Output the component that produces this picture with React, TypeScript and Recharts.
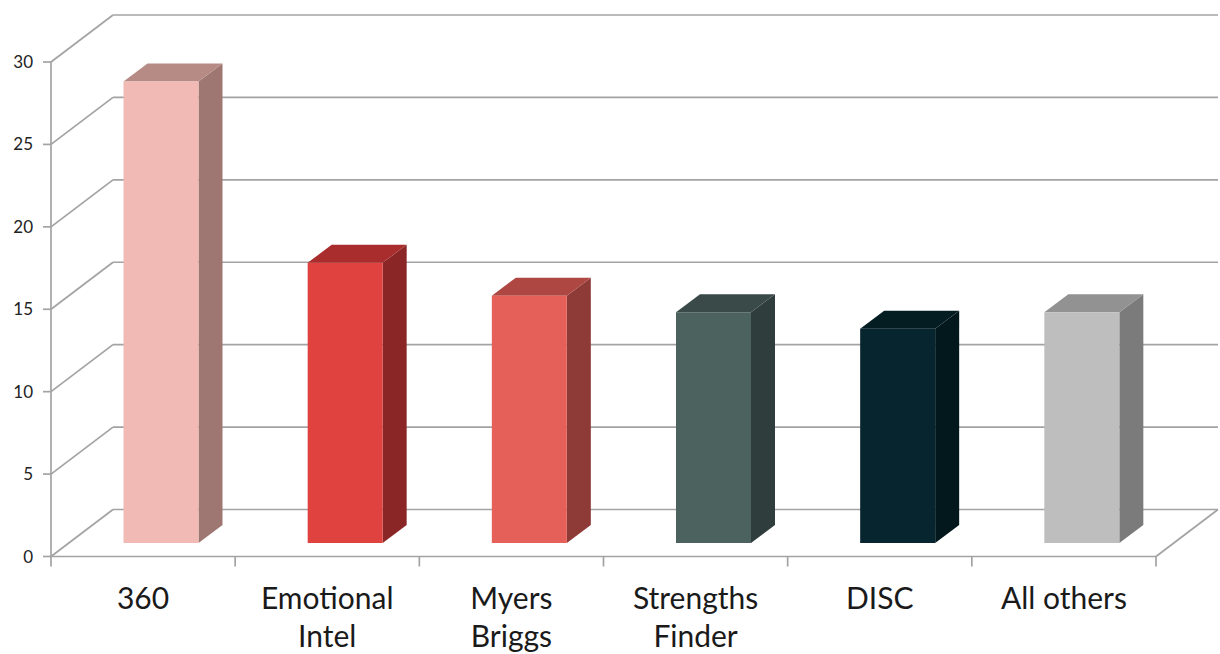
import React from 'react';
import { BarChart, Bar, XAxis, YAxis, CartesianGrid } from 'recharts';

// Chart data
const categories = ['360', 'Emotional\nIntel', 'Myers\nBriggs', 'Strengths\nFinder', 'DISC', 'All others'];
const counts = [28, 17, 15, 14, 13, 14];
const yTicks = [0, 5, 10, 15, 20, 25, 30];

const data = categories.map((name, i) => ({ name, value: counts[i] }));

// Layout
const W = 1220;
const H = 654;
const LEFT = 51;
const RIGHT = 64;
const TOP = 62;
const XAXIS_H = 97.5;
const PLOT_BOTTOM = H - XAXIS_H;

// fake 3D offsets (Excel style perspective)
const WALL_DX = 62;
const WALL_DY = -47;
const BAR_DX = 17.5;
const BAR_DY = -13.5;
const DEPTH_DX = 24;
const DEPTH_DY = -18;

const GRID = '#a3a3a3';
const GRID_W = 1.7;
const FONT = 'Lato, "Open Sans", sans-serif';

const faceColors = [
  { front: '#f2bab5', top: '#b68b86', side: '#9e7772' },
  { front: '#e04240', top: '#a92d2d', side: '#8b2626' },
  { front: '#e6605a', top: '#ae4642', side: '#8e3b38' },
  { front: '#4c625f', top: '#3a4a48', side: '#2f3d3c' },
  { front: '#06252e', top: '#041d23', side: '#03181d' },
  { front: '#bebebe', top: '#929292', side: '#7b7b7b' },
];

// Horizontal grid line -> side wall diagonal + back wall line
function WallLine(props: any) {
  const { x1, x2, y1 } = props;
  const isFloor = Math.abs(y1 - PLOT_BOTTOM) < 1;
  return (
    <g key={props.key}>
      <line x1={x1} y1={y1} x2={x1 + WALL_DX} y2={y1 + WALL_DY} stroke={GRID} strokeWidth={GRID_W} />
      <line
        x1={x1 + WALL_DX}
        y1={y1 + WALL_DY}
        x2={x2 + WALL_DX}
        y2={y1 + WALL_DY}
        stroke={GRID}
        strokeWidth={GRID_W}
      />
      {isFloor && (
        <line x1={x2} y1={y1} x2={x2 + WALL_DX} y2={y1 + WALL_DY} stroke={GRID} strokeWidth={GRID_W} />
      )}
    </g>
  );
}

function Bar3D(props: any) {
  const { x, y, width, height, index } = props;
  if (height == null || height <= 0) return null;
  const c = faceColors[index % faceColors.length];
  const fx = x + BAR_DX;
  const fy = y + BAR_DY;
  const top = `${fx},${fy} ${fx + width},${fy} ${fx + width + DEPTH_DX},${fy + DEPTH_DY} ${fx + DEPTH_DX},${fy + DEPTH_DY}`;
  const side = `${fx + width},${fy} ${fx + width + DEPTH_DX},${fy + DEPTH_DY} ${fx + width + DEPTH_DX},${fy + height + DEPTH_DY} ${fx + width},${fy + height}`;
  return (
    <g>
      <polygon points={side} fill={c.side} />
      <polygon points={top} fill={c.top} />
      <rect x={fx} y={fy} width={width} height={height} fill={c.front} />
    </g>
  );
}

function CategoryTick(props: any) {
  const { x, y, payload, index } = props;
  const half = (W - LEFT - RIGHT) / categories.length / 2;
  const lines = String(payload.value).split('\n');
  return (
    <g>
      <line x1={x - half} y1={y} x2={x - half} y2={y + 10} stroke={GRID} strokeWidth={GRID_W} />
      {index === categories.length - 1 && (
        <line x1={x + half} y1={y} x2={x + half} y2={y + 10} stroke={GRID} strokeWidth={GRID_W} />
      )}
      <text x={x} y={y + 52.5} textAnchor="middle" fontFamily={FONT} fontSize={30} fill="#1a1a1a">
        {lines.map((l, i) => (
          <tspan key={i} x={x} dy={i === 0 ? 0 : 38}>
            {l}
          </tspan>
        ))}
      </text>
    </g>
  );
}

export default function App() {
  return (
    <div style={{ position: 'absolute', left: 0, top: 0, width: W, height: H, background: '#fff' }}>
      <BarChart width={W} height={H} data={data} margin={{ top: TOP, right: RIGHT, bottom: 0, left: 0 }}>
        <CartesianGrid vertical={false} horizontal={(p: any) => <WallLine {...p} />} />
        <XAxis
          dataKey="name"
          height={XAXIS_H}
          interval={0}
          tickLine={false}
          tickSize={0}
          tickMargin={0}
          axisLine={{ stroke: GRID, strokeWidth: GRID_W }}
          tick={<CategoryTick />}
        />
        <YAxis
          width={LEFT}
          domain={[0, 30]}
          ticks={yTicks}
          interval={0}
          tickSize={8}
          tickMargin={10}
          axisLine={{ stroke: GRID, strokeWidth: GRID_W }}
          tickLine={{ stroke: GRID, strokeWidth: GRID_W }}
          tick={{ fontSize: 17, fill: '#222', fontFamily: FONT }}
        />
        <Bar dataKey="value" barSize={75} shape={<Bar3D />} isAnimationActive={false} />
      </BarChart>
    </div>
  );
}
